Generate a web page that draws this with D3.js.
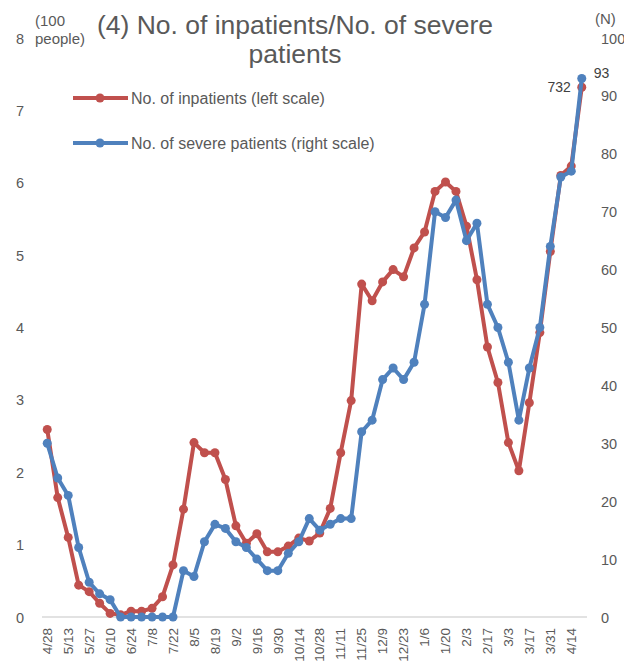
<!DOCTYPE html>
<html>
<head>
<meta charset="utf-8">
<script src="https://cdn.jsdelivr.net/npm/d3@7"></script>
<style>
  body { margin: 0; background: #fff; }
  svg { display: block; font-family: "Liberation Sans", Arial, sans-serif; }
</style>
</head>
<body>
<svg id="chart" width="624" height="663"></svg>
<script>
// Weekly tick labels (every other week is labelled)
const tickLabels = ["4/28","5/13","5/27","6/10","6/24","7/8","7/22","8/5","8/19","9/2","9/16","9/30",
  "10/14","10/28","11/11","11/25","12/9","12/23","1/6","1/20","2/3","2/17","3/3","3/17","3/31","4/14"];

// No. of inpatients (hundreds of people) — left scale
const inpatients = [2.59,1.65,1.10,0.44,0.35,0.19,0.05,0.03,0.08,0.08,0.12,0.28,0.72,1.49,2.41,2.27,
  2.27,1.90,1.26,1.02,1.15,0.90,0.90,0.98,1.09,1.05,1.16,1.50,2.27,2.99,4.60,4.37,4.63,4.80,4.70,
  5.10,5.32,5.88,6.01,5.88,5.40,4.66,3.73,3.24,2.41,2.02,2.96,3.93,5.05,6.10,6.23,7.32];

// No. of severe patients — right scale
const severe = [30,24,21,12,6,4,3,0,0,0,0,0,0,8,7,13,16,15.3,13,12,10,8,8,11,13,17,15,16,17,17,
  32,34,41,43,41,44,54,70,69,72,65,68,54,50,44,34,43,50,64,76,77,93];

const weeks = d3.range(inpatients.length);

const svg = d3.select("#chart");
const margin = { left: 42, right: 37, top: 38, bottom: 46 };
const W = 624, H = 663;

const x = d3.scaleBand().domain(weeks).range([margin.left, W - margin.right]);
const cx = i => x(i) + x.bandwidth() / 2;
const yL = d3.scaleLinear().domain([0, 8]).range([H - margin.bottom, margin.top]);
const yR = d3.scaleLinear().domain([0, 100]).range([H - margin.bottom, margin.top]);

const red = "#C0504D", blue = "#4F81BD", textCol = "#595959";

// baseline
svg.append("line")
  .attr("x1", margin.left).attr("x2", W - margin.right)
  .attr("y1", yL(0)).attr("y2", yL(0))
  .attr("stroke", "#d9d9d9").attr("stroke-width", 1.5);

// left axis
const leftAxis = d3.axisLeft(yL).ticks(8).tickSize(0).tickPadding(0);
const gL = svg.append("g").attr("transform", "translate(24,0)").call(leftAxis);
gL.select(".domain").remove();
gL.selectAll("text").attr("fill", textCol).style("font-size", "14.5px").attr("dy", "0.35em");

// right axis
const rightAxis = d3.axisRight(yR).ticks(10).tickSize(0).tickPadding(0);
const gR = svg.append("g").attr("transform", "translate(601,0)").call(rightAxis);
gR.select(".domain").remove();
gR.selectAll("text").attr("fill", textCol).style("font-size", "14.5px").attr("dy", "0.35em");

// x tick labels, rotated
const xAxis = d3.axisBottom(x)
  .tickValues(tickLabels.map((d, i) => i * 2))
  .tickFormat(d => tickLabels[d / 2])
  .tickSize(0);
const gX = svg.append("g").attr("transform", `translate(0,${yL(0) + 11})`).call(xAxis);
gX.select(".domain").remove();
gX.selectAll("text")
  .attr("fill", textCol).style("font-size", "13.5px")
  .attr("transform", "rotate(-90)")
  .attr("text-anchor", "end")
  .attr("x", 0).attr("y", 0).attr("dy", "0.35em");

// axis unit labels
svg.append("text").attr("x", 35).attr("y", 26).attr("fill", textCol).style("font-size", "15px").text("(100");
svg.append("text").attr("x", 35).attr("y", 44).attr("fill", textCol).style("font-size", "15px").text("people)");
svg.append("text").attr("x", 595).attr("y", 24).attr("fill", textCol).style("font-size", "15px").text("(N)");

// title
const title = svg.append("text").attr("fill", textCol).attr("text-anchor", "middle").style("font-size", "26.5px");
title.append("tspan").attr("x", 295).attr("y", 34).text("(4) No. of inpatients/No. of severe");
title.append("tspan").attr("x", 295).attr("y", 63).text("patients");

// series
function drawSeries(values, yScale, color) {
  const line = d3.line().x((d, i) => cx(i)).y(d => yScale(d));
  svg.append("path").datum(values)
    .attr("fill", "none").attr("stroke", color).attr("stroke-width", 4)
    .attr("stroke-linejoin", "round").attr("d", line);
  svg.append("g").selectAll("circle").data(values).join("circle")
    .attr("cx", (d, i) => cx(i)).attr("cy", d => yScale(d))
    .attr("r", 4.5).attr("fill", color);
}
drawSeries(inpatients, yL, red);
drawSeries(severe, yR, blue);

// end-value labels
const last = inpatients.length - 1;
svg.append("text").attr("x", cx(last) - 11).attr("y", yL(inpatients[last]) + 5)
  .attr("text-anchor", "end").attr("fill", "#404040").style("font-size", "14px")
  .text(Math.round(inpatients[last] * 100));
svg.append("text").attr("x", cx(last) + 12).attr("y", yR(severe[last]) - 1)
  .attr("fill", "#404040").style("font-size", "14px")
  .text(severe[last]);

// legend
const legend = [
  { name: "No. of inpatients (left scale)", color: red, y: 98 },
  { name: "No. of severe patients (right scale)", color: blue, y: 143 }
];
const lg = svg.append("g").selectAll("g").data(legend).join("g");
lg.append("line").attr("x1", 73).attr("x2", 128).attr("y1", d => d.y).attr("y2", d => d.y)
  .attr("stroke", d => d.color).attr("stroke-width", 4);
lg.append("circle").attr("cx", 100).attr("cy", d => d.y).attr("r", 4.5).attr("fill", d => d.color);
lg.append("text").attr("x", 131).attr("y", d => d.y + 5.5).attr("fill", textCol)
  .style("font-size", "16px").text(d => d.name);
</script>
</body>
</html>
